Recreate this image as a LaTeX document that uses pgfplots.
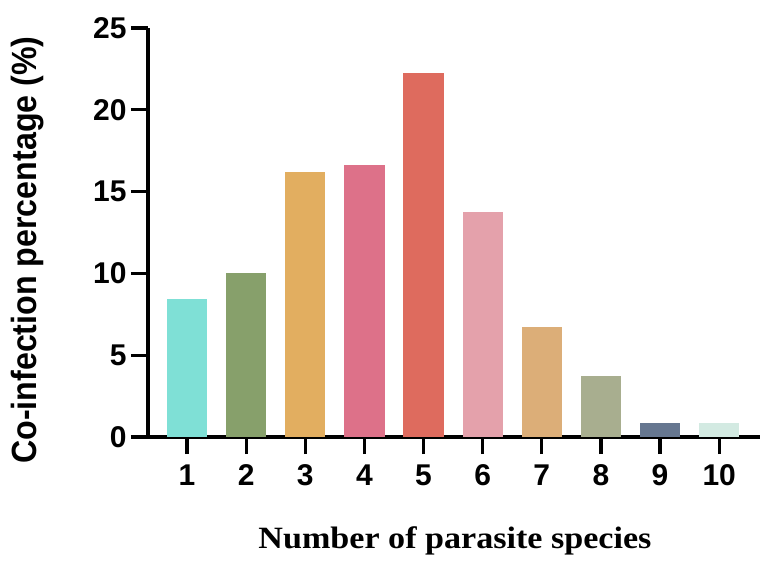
\documentclass[border=0pt]{standalone}
\usepackage{fontspec}
\setmainfont{Liberation Sans}
\newfontfamily\serifrm{Liberation Serif}
\usepackage{graphicx}
\usepackage{pgfplots}
\pgfplotsset{compat=1.18}
\definecolor{c1}{HTML}{7FE0D6}
\definecolor{c2}{HTML}{87A06B}
\definecolor{c3}{HTML}{E2AE60}
\definecolor{c4}{HTML}{DD7189}
\definecolor{c5}{HTML}{DE6B5E}
\definecolor{c6}{HTML}{E4A1AB}
\definecolor{c7}{HTML}{DCAE78}
\definecolor{c8}{HTML}{A8AE8F}
\definecolor{c9}{HTML}{667790}
\definecolor{c10}{HTML}{D3EAE2}
\begin{document}
\begin{tikzpicture}
\begin{axis}[
  scale only axis, width=612pt, height=409pt,
  xmin=0.34, xmax=10.69, ymin=0, ymax=25,
  axis x line*=bottom, axis y line*=left,
  axis line style={line width=3.2pt, black},
  xtick={1,...,10}, ytick={0,5,...,25},
  tick style={line width=3.2pt, black},
  major tick length=17pt, tick align=outside,
  /pgf/number format/assume math mode=true,
  tick label style={font=\fontsize{30}{30}\selectfont\bfseries},
  xticklabel style={yshift=-7pt},
  yticklabel style={xshift=-1pt},
  xlabel={\serifrm\bfseries\scalebox{1.1}[1]{Number of parasite species}},
  xlabel style={font=\fontsize{31}{31}\selectfont, at={(axis description cs:0.5016,-0.2714)}, anchor=base, inner sep=0pt},
  ylabel={\bfseries\scalebox{0.92}[1]{Co-infection percentage (\%)}},
  ylabel style={font=\fontsize{35}{35}\selectfont, at={(axis description cs:-0.1814,0.457)}, anchor=base, inner sep=0pt},
  clip=false,
]
\addplot[ybar, bar shift=0pt, bar width=0.68, fill=c1, draw=none] coordinates {(1,8.44)};
\addplot[ybar, bar shift=0pt, bar width=0.68, fill=c2, draw=none] coordinates {(2,10.0)};
\addplot[ybar, bar shift=0pt, bar width=0.68, fill=c3, draw=none] coordinates {(3,16.22)};
\addplot[ybar, bar shift=0pt, bar width=0.68, fill=c4, draw=none] coordinates {(4,16.6)};
\addplot[ybar, bar shift=0pt, bar width=0.68, fill=c5, draw=none] coordinates {(5,22.23)};
\addplot[ybar, bar shift=0pt, bar width=0.68, fill=c6, draw=none] coordinates {(6,13.73)};
\addplot[ybar, bar shift=0pt, bar width=0.68, fill=c7, draw=none] coordinates {(7,6.74)};
\addplot[ybar, bar shift=0pt, bar width=0.68, fill=c8, draw=none] coordinates {(8,3.73)};
\addplot[ybar, bar shift=0pt, bar width=0.68, fill=c9, draw=none] coordinates {(9,0.84)};
\addplot[ybar, bar shift=0pt, bar width=0.68, fill=c10, draw=none] coordinates {(10,0.84)};
\end{axis}
\pgfresetboundingbox
\path[use as bounding box] (-148pt,-128pt) rectangle (620pt,437pt);
\end{tikzpicture}
\end{document}
